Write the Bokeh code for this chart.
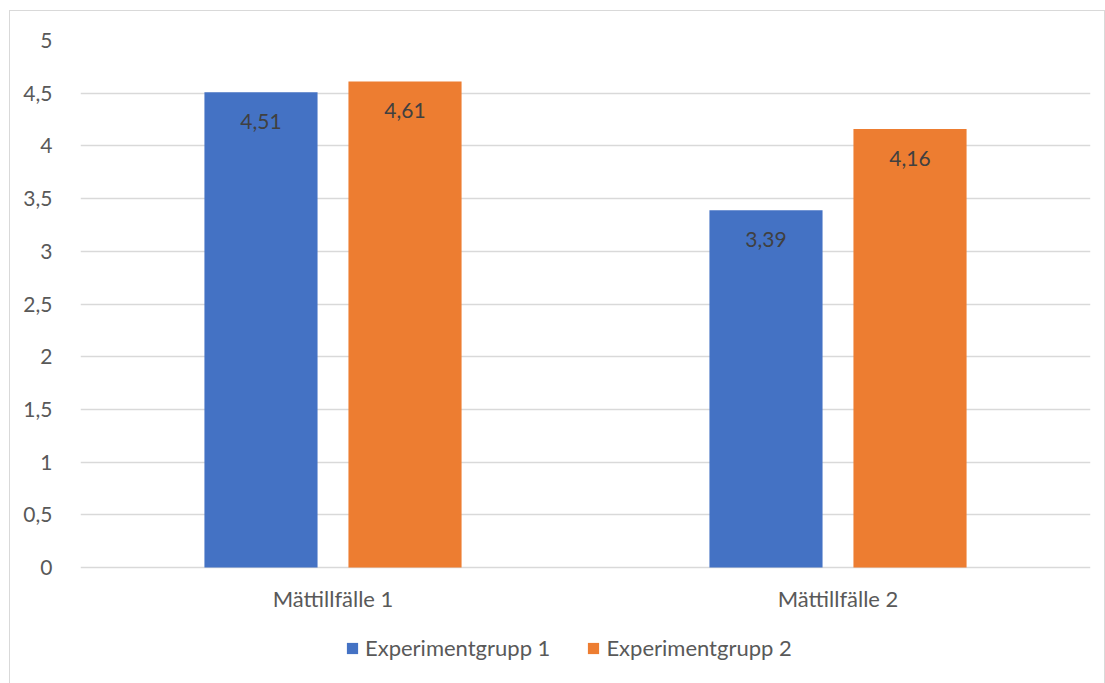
from bokeh.plotting import figure
from bokeh.models import (ColumnDataSource, FactorRange, FixedTicker, CustomJSTickFormatter,
                          Legend, LegendItem, InlineStyleSheet)
from bokeh.transform import dodge
from bokeh.core.properties import value
from bokeh.embed import file_html
from bokeh.resources import INLINE

categories = ["Mättillfälle 1", "Mättillfälle 2"]
series_names = ["Experimentgrupp 1", "Experimentgrupp 2"]
grupp1 = [4.51, 3.39]
grupp2 = [4.61, 4.16]
y_ticks = [0, 0.5, 1, 1.5, 2, 2.5, 3, 3.5, 4, 4.5, 5]

FONT = "Lato"
BLUE = "#4472C4"
ORANGE = "#ED7D31"
GREY = "#595959"

def fmt(v):
    return ("%g" % v).replace(".", ",")

src = ColumnDataSource(dict(
    cat=categories,
    g1=grupp1,
    g2=grupp2,
    l1=[fmt(v) for v in grupp1],
    l2=[fmt(v) for v in grupp2],
    zero=[0, 0],
))

# frame spans the value area plus the room below it for category labels and legend
p = figure(width=1094, height=672, x_range=FactorRange(*categories, range_padding=0),
           y_range=(-1.1, 5), output_backend="svg", toolbar_location=None,
           min_border_left=70, min_border_right=14, min_border_top=29, min_border_bottom=0,
           margin=(11, 0, 0, 10))
p.stylesheets = [InlineStyleSheet(css=":host { outline: 1px solid #d9d9d9; }")]
p.outline_line_color = None
p.background_fill_color = "white"
p.border_fill_color = "white"

off = 0.1426
w = 0.224
r1 = p.vbar(x=dodge("cat", -off, range=p.x_range), top="g1", width=w, source=src,
            fill_color=BLUE, line_color=None)
r2 = p.vbar(x=dodge("cat", off, range=p.x_range), top="g2", width=w, source=src,
            fill_color=ORANGE, line_color=None)

p.text(x=dodge("cat", -off, range=p.x_range), y="g1", text="l1", source=src,
       text_align="center", text_baseline="middle", y_offset=29,
       text_font=value(FONT), text_font_size="21px", text_color="#404040")
p.text(x=dodge("cat", off, range=p.x_range), y="g2", text="l2", source=src,
       text_align="center", text_baseline="middle", y_offset=29,
       text_font=value(FONT), text_font_size="21px", text_color="#404040")

# category labels under the zero line
p.text(x="cat", y="zero", text="cat", source=src,
       text_align="center", text_baseline="middle", y_offset=31,
       text_font=value(FONT), text_font_size="22px", text_color=GREY)

p.xaxis.visible = False

p.yaxis.ticker = FixedTicker(ticks=y_ticks)
p.yaxis.formatter = CustomJSTickFormatter(code="return tick.toString().replace('.', ',');")
p.yaxis.axis_line_color = None
p.yaxis.major_tick_line_color = None
p.yaxis.minor_tick_line_color = None
p.yaxis.major_label_standoff = 22
p.yaxis.major_label_text_font = FONT
p.yaxis.major_label_text_font_size = "21px"
p.yaxis.major_label_text_color = GREY

p.xgrid.grid_line_color = None
p.ygrid.ticker = FixedTicker(ticks=y_ticks)
p.ygrid.grid_line_color = "#d9d9d9"
p.ygrid.grid_line_width = 1.5

legend = Legend(items=[LegendItem(label=series_names[0], renderers=[r1]),
                       LegendItem(label=series_names[1], renderers=[r2])],
                orientation="horizontal", location=(265, 22),
                label_text_font=FONT, label_text_font_size="22px", label_text_color=GREY,
                glyph_width=14, glyph_height=14, spacing=36, label_standoff=6,
                border_line_color=None, background_fill_alpha=0, padding=0, margin=0)
p.add_layout(legend, "center")

open("out.html", "w").write(file_html(p, INLINE))
